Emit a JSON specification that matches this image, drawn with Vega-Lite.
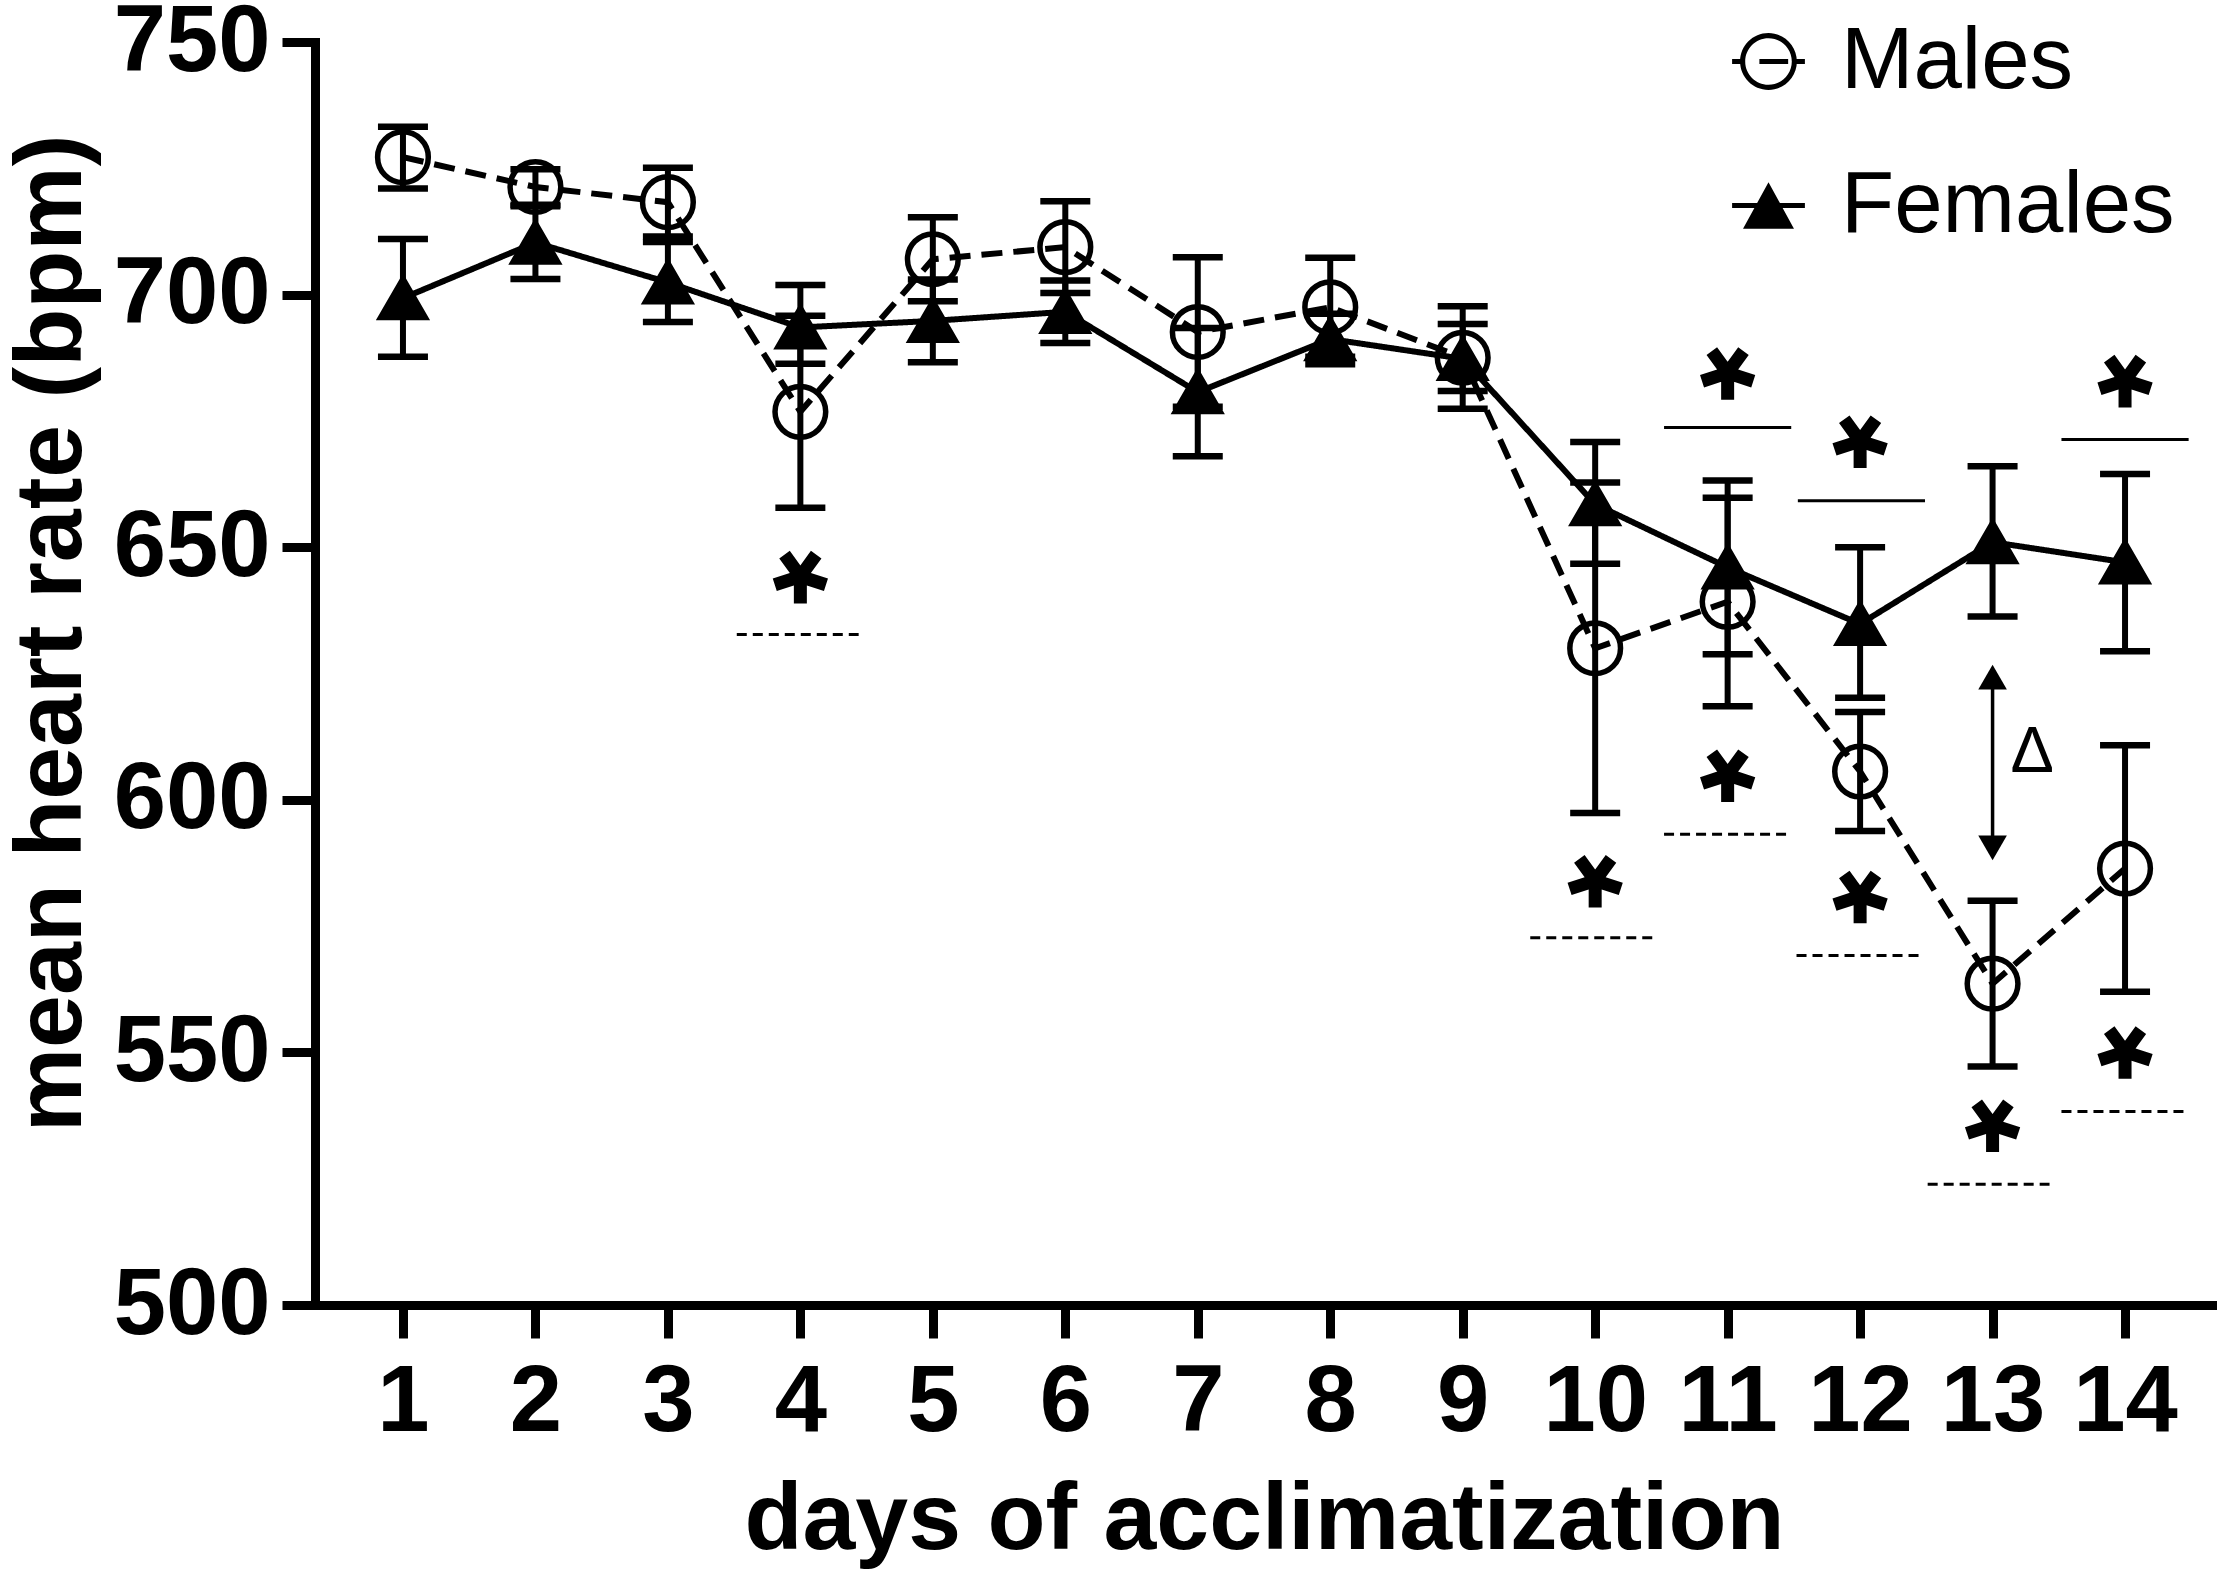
{
  "$schema": "https://vega.github.io/schema/vega-lite/v6.json",
  "width": 1898,
  "height": 1263,
  "autosize": {"type": "none"},
  "padding": {"left": 315, "top": 42, "right": 4, "bottom": 272},
  "background": "white",
  "datasets": {
    "hr": [
      {"day": 1, "sex": "Males", "mean": 727.2, "lo": 721.0, "hi": 733.2},
      {"day": 1, "sex": "Females", "mean": 699.3, "lo": 687.7, "hi": 711.0},
      {"day": 2, "sex": "Males", "mean": 721.3, "lo": 717.8, "hi": 724.8},
      {"day": 2, "sex": "Females", "mean": 710.3, "lo": 703.1, "hi": 717.5},
      {"day": 3, "sex": "Males", "mean": 718.3, "lo": 711.5, "hi": 725.1},
      {"day": 3, "sex": "Females", "mean": 702.4, "lo": 694.6, "hi": 710.4},
      {"day": 4, "sex": "Males", "mean": 676.8, "lo": 657.8, "hi": 695.8},
      {"day": 4, "sex": "Females", "mean": 693.5, "lo": 686.3, "hi": 701.9},
      {"day": 5, "sex": "Males", "mean": 707.0, "lo": 698.7, "hi": 715.3},
      {"day": 5, "sex": "Females", "mean": 694.8, "lo": 686.6, "hi": 703.0},
      {"day": 6, "sex": "Males", "mean": 709.4, "lo": 700.3, "hi": 718.5},
      {"day": 6, "sex": "Females", "mean": 696.6, "lo": 690.4, "hi": 702.8},
      {"day": 7, "sex": "Males", "mean": 692.6, "lo": 677.8, "hi": 707.4},
      {"day": 7, "sex": "Females", "mean": 680.7, "lo": 668.0, "hi": 693.4},
      {"day": 8, "sex": "Males", "mean": 697.5, "lo": 687.7, "hi": 707.3},
      {"day": 8, "sex": "Females", "mean": 691.2, "lo": 686.2, "hi": 696.2},
      {"day": 9, "sex": "Males", "mean": 687.5, "lo": 677.4, "hi": 697.7},
      {"day": 9, "sex": "Females", "mean": 687.3, "lo": 680.9, "hi": 694.2},
      {"day": 10, "sex": "Males", "mean": 630.0, "lo": 597.4, "hi": 662.8},
      {"day": 10, "sex": "Females", "mean": 658.5, "lo": 646.7, "hi": 670.8},
      {"day": 11, "sex": "Males", "mean": 639.2, "lo": 618.5, "hi": 659.8},
      {"day": 11, "sex": "Females", "mean": 646.0, "lo": 628.8, "hi": 663.2},
      {"day": 12, "sex": "Males", "mean": 605.6, "lo": 593.8, "hi": 617.4},
      {"day": 12, "sex": "Females", "mean": 634.8, "lo": 620.2, "hi": 650.0},
      {"day": 13, "sex": "Males", "mean": 563.6, "lo": 547.2, "hi": 580.0},
      {"day": 13, "sex": "Females", "mean": 651.0, "lo": 636.3, "hi": 666.0},
      {"day": 14, "sex": "Males", "mean": 586.4, "lo": 562.0, "hi": 610.8},
      {"day": 14, "sex": "Females", "mean": 647.0, "lo": 629.4, "hi": 664.5}
    ],
    "stars": [
      {"day": 4, "y": 643.7},
      {"day": 10, "y": 583.5},
      {"day": 11, "y": 684.0},
      {"day": 11, "y": 604.4},
      {"day": 12, "y": 670.5},
      {"day": 12, "y": 580.4},
      {"day": 13, "y": 535.1},
      {"day": 14, "y": 682.5},
      {"day": 14, "y": 549.6}
    ],
    "bars": [
      {"x1": 3.52, "x2": 4.44, "y": 632.7, "style": "dashed"},
      {"x1": 9.51, "x2": 10.44, "y": 572.7, "style": "dashed"},
      {"x1": 10.52, "x2": 11.48, "y": 673.7, "style": "solid"},
      {"x1": 10.52, "x2": 11.45, "y": 593.2, "style": "dashed"},
      {"x1": 11.53, "x2": 12.49, "y": 659.2, "style": "solid"},
      {"x1": 11.52, "x2": 12.46, "y": 569.2, "style": "dashed"},
      {"x1": 12.51, "x2": 13.43, "y": 523.9, "style": "dashed"},
      {"x1": 13.52, "x2": 14.48, "y": 671.3, "style": "solid"},
      {"x1": 13.52, "x2": 14.45, "y": 538.3, "style": "dashed"}
    ],
    "arrow": [
      {"day": 13, "top": 624.3, "bottom": 590.5}
    ],
    "delta": [
      {"day": 13.3, "y": 610, "label": "Δ"}
    ]
  },
  "layer": [
    {
      "data": {"name": "hr"},
      "mark": {"type": "rule", "color": "black", "strokeWidth": 6, "opacity": 1},
      "encoding": {
        "x": {
          "field": "day",
          "type": "quantitative",
          "scale": {"domain": [0.336, 14.664], "nice": false, "zero": false},
          "axis": {
            "values": [1, 2, 3, 4, 5, 6, 7, 8, 9, 10, 11, 12, 13, 14],
            "format": "d",
            "title": "days of acclimatization",
            "titleX": 949,
            "titleY": 243,
            "titleBaseline": "alphabetic",
            "labelPadding": 18
          }
        },
        "y": {
          "field": "lo",
          "type": "quantitative",
          "scale": {"domain": [500, 750], "nice": false, "zero": false},
          "axis": {
            "values": [500, 550, 600, 650, 700, 750],
            "format": "d",
            "title": "mean heart rate (bpm)",
            "titleAngle": 270,
            "titleX": -235,
            "titleY": 591,
            "titleAlign": "center",
            "titleBaseline": "alphabetic",
            "labelPadding": 12
          }
        },
        "y2": {"field": "hi"}
      }
    },
    {
      "data": {"name": "hr"},
      "transform": [{"fold": ["lo", "hi"], "as": ["end", "val"]}],
      "mark": {"type": "tick", "orient": "horizontal", "color": "black", "opacity": 1, "size": 50, "thickness": 6.5},
      "encoding": {
        "x": {"field": "day", "type": "quantitative"},
        "y": {"field": "val", "type": "quantitative"}
      }
    },
    {
      "data": {"name": "hr"},
      "mark": {"type": "line", "color": "black", "strokeWidth": 6, "opacity": 1},
      "encoding": {
        "x": {"field": "day", "type": "quantitative"},
        "y": {"field": "mean", "type": "quantitative"},
        "detail": {"field": "sex"},
        "strokeDash": {
          "field": "sex",
          "type": "nominal",
          "scale": {"domain": ["Males", "Females"], "range": [[21, 11], [1, 0]]},
          "legend": null
        }
      }
    },
    {
      "data": {"name": "hr"},
      "mark": {"type": "point", "stroke": "black", "strokeWidth": 5.5, "opacity": 1},
      "encoding": {
        "x": {"field": "day", "type": "quantitative"},
        "y": {"field": "mean", "type": "quantitative"},
        "shape": {
          "field": "sex",
          "type": "nominal",
          "scale": {"domain": ["Males", "Females"], "range": ["circle", "triangle-up"]},
          "legend": null
        },
        "fill": {
          "condition": {"test": "datum.sex === 'Females'", "value": "black"},
          "value": "transparent"
        },
        "size": {
          "condition": {"test": "datum.sex === 'Females'", "value": 2000},
          "value": 2570
        }
      }
    },
    {
      "data": {"name": "bars"},
      "transform": [{"filter": "datum.style === 'solid'"}],
      "mark": {"type": "rule", "color": "black", "strokeWidth": 3, "opacity": 1},
      "encoding": {
        "x": {"field": "x1", "type": "quantitative"},
        "x2": {"field": "x2"},
        "y": {"field": "y", "type": "quantitative"}
      }
    },
    {
      "data": {"name": "bars"},
      "transform": [{"filter": "datum.style === 'dashed'"}],
      "mark": {"type": "rule", "color": "black", "strokeWidth": 3, "strokeDash": [10, 6], "opacity": 1},
      "encoding": {
        "x": {"field": "x1", "type": "quantitative"},
        "x2": {"field": "x2"},
        "y": {"field": "y", "type": "quantitative"}
      }
    },
    {
      "data": {"name": "stars"},
      "mark": {
        "type": "point",
        "shape": "M0,-0.095L0.588,-0.904M0,-0.095L0.951,0.214M0,-0.095L0,0.905M0,-0.095L-0.951,0.214M0,-0.095L-0.588,-0.904",
        "size": 2900,
        "filled": false,
        "stroke": "black",
        "strokeWidth": 13,
        "strokeCap": "butt",
        "opacity": 1
      },
      "encoding": {
        "x": {"field": "day", "type": "quantitative"},
        "y": {"field": "y", "type": "quantitative"}
      }
    },
    {
      "data": {"name": "arrow"},
      "mark": {"type": "rule", "color": "black", "strokeWidth": 3.5, "opacity": 1},
      "encoding": {
        "x": {"field": "day", "type": "quantitative"},
        "y": {"field": "top", "type": "quantitative"},
        "y2": {"field": "bottom"}
      }
    },
    {
      "data": {"name": "arrow"},
      "mark": {"type": "point", "shape": "triangle-up", "size": 818, "filled": true, "color": "black", "opacity": 1},
      "encoding": {
        "x": {"field": "day", "type": "quantitative"},
        "y": {"field": "top", "type": "quantitative"}
      }
    },
    {
      "data": {"name": "arrow"},
      "mark": {"type": "point", "shape": "triangle-down", "size": 818, "filled": true, "color": "black", "opacity": 1},
      "encoding": {
        "x": {"field": "day", "type": "quantitative"},
        "y": {"field": "bottom", "type": "quantitative"}
      }
    },
    {
      "data": {"name": "delta"},
      "mark": {
        "type": "text",
        "font": "Liberation Sans",
        "fontSize": 65,
        "color": "black",
        "align": "center",
        "baseline": "alphabetic",
        "dy": 23
      },
      "encoding": {
        "x": {"field": "day", "type": "quantitative"},
        "y": {"field": "y", "type": "quantitative"},
        "text": {"field": "label"}
      }
    },
    {
      "data": {"name": "hr"},
      "transform": [{"filter": "datum.day > 100"}],
      "mark": {"type": "point", "filled": true, "color": "black", "strokeWidth": 0},
      "encoding": {
        "x": {"field": "day", "type": "quantitative"},
        "y": {"field": "mean", "type": "quantitative"},
        "shape": {
          "field": "sex",
          "type": "nominal",
          "scale": {
            "domain": ["Males", "Females"],
            "range": [
              "M0.78,0A0.78,0.78,0,1,1,-0.78,0A0.78,0.78,0,1,1,0.78,0ZM0.64,0A0.64,0.64,0,1,0,-0.64,0A0.64,0.64,0,1,0,0.64,0ZM-1,-0.07H-0.64V0.07H-1ZM-0.25,-0.07H0.54V0.07H-0.25ZM0.64,-0.07H1V0.07H0.64Z",
              "M0,-0.64L0.7,0.64L-0.7,0.64ZM-1,-0.07H1V0.07H-1Z"
            ]
          },
          "legend": {
            "title": null,
            "orient": "none",
            "legendX": 1410,
            "legendY": -24,
            "padding": 0,
            "symbolSize": 5300,
            "symbolFillColor": "black",
            "symbolStrokeColor": "black",
            "symbolStrokeWidth": 0,
            "symbolOpacity": 1,
            "labelFont": "Liberation Sans",
            "labelFontSize": 87,
            "labelFontWeight": "normal",
            "labelColor": "black",
            "labelOffset": 29,
            "labelLimit": 0,
            "rowPadding": 56
          }
        }
      }
    }
  ],
  "resolve": {"scale": {"shape": "independent"}},
  "config": {
    "view": {"stroke": null},
    "axis": {
      "grid": false,
      "domainColor": "black",
      "domainWidth": 9,
      "domainCap": "square",
      "tickColor": "black",
      "tickWidth": 9,
      "tickSize": 33,
      "labelFont": "Liberation Sans",
      "labelFontSize": 94,
      "labelFontWeight": "bold",
      "labelColor": "black",
      "labelLimit": 0,
      "labelOverlap": false,
      "labelFlush": false,
      "labelBound": false,
      "titleFont": "Liberation Sans",
      "titleFontSize": 95,
      "titleFontWeight": "bold",
      "titleColor": "black"
    }
  }
}
